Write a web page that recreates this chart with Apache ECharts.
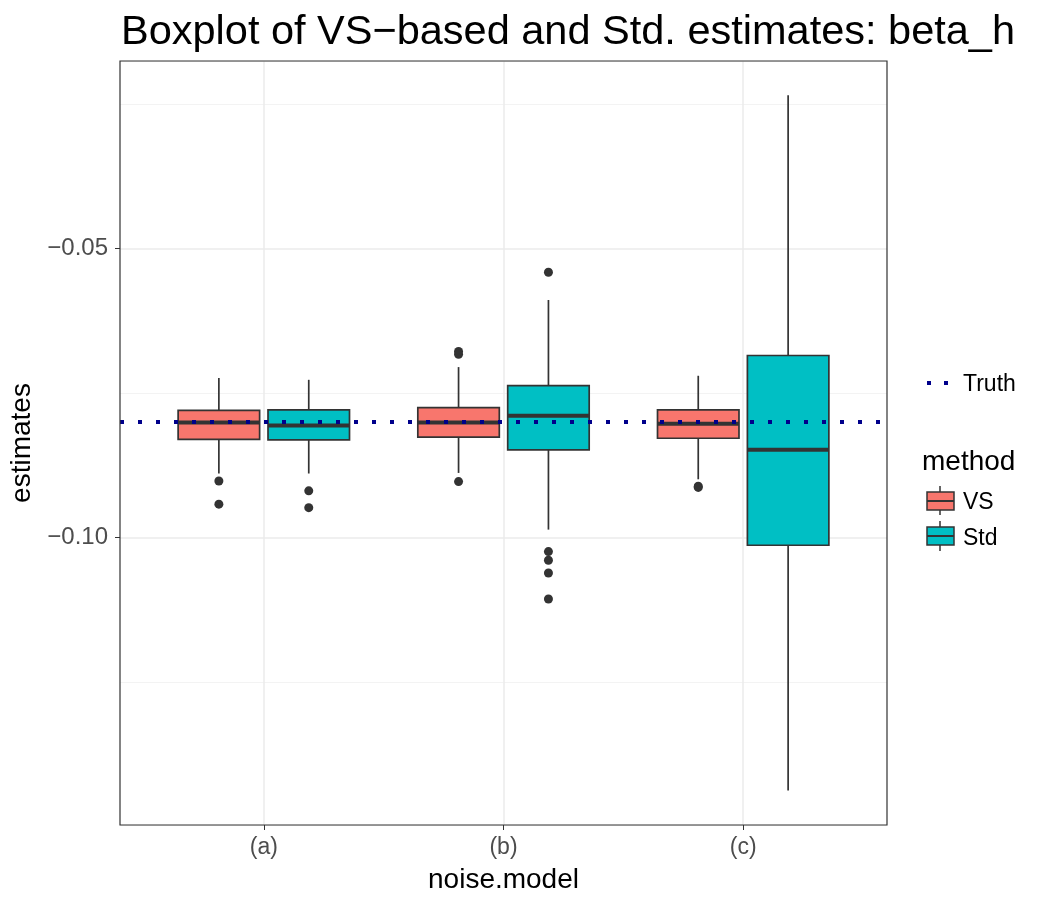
<!DOCTYPE html>
<html>
<head>
<meta charset="utf-8">
<script src="https://cdn.jsdelivr.net/npm/echarts@6/dist/echarts.min.js"></script>
<style>
  html, body { margin: 0; padding: 0; background: #fff; }
  #main { width: 1050px; height: 900px; }
</style>
</head>
<body>
<div id="main"></div>
<script>
var groups = ['(a)', '(b)', '(c)'];
var methods = ['VS', 'Std'];
var methodColors = ['#F8766D', '#00BFC4'];
// [lower whisker, Q1, median, Q3, upper whisker] per noise model
var vsBoxes = [
  [-0.0889, -0.0830, -0.0801, -0.0780, -0.0724],
  [-0.0888, -0.0826, -0.0801, -0.0775, -0.0705],
  [-0.0899, -0.0828, -0.0803, -0.0779, -0.0720]
];
var stdBoxes = [
  [-0.0889, -0.0831, -0.0806, -0.0779, -0.0727],
  [-0.0986, -0.0848, -0.0789, -0.0737, -0.0589],
  [-0.1437, -0.1013, -0.0848, -0.0685, -0.0235]
];
// [group index, value]
var vsOutliers = [
  [0, -0.0902], [0, -0.0942],
  [1, -0.0678], [1, -0.0683], [1, -0.0903],
  [2, -0.0911], [2, -0.0913]
];
var stdOutliers = [
  [0, -0.0919], [0, -0.0948],
  [1, -0.0541], [1, -0.1024], [1, -0.1039], [1, -0.1061], [1, -0.1106]
];
var truth = -0.08;
var yTicks = [-0.10, -0.05];
var yTickLabels = ['\u22120.10', '\u22120.05'];

var dodge = 0.1875;
var boxWidth = 0.34;
var font = 'Liberation Sans, Arial, sans-serif';

function boxData(boxes, offset) {
  return boxes.map(function (b, i) {
    return [i + 1 + offset].concat(b);
  });
}
function outlierData(points, offset) {
  return points.map(function (p) { return [p[0] + 1 + offset, p[1]]; });
}

function renderBox(params, api) {
  var x = api.value(0);
  var lo = api.coord([x, api.value(1)]);
  var q1 = api.coord([x, api.value(2)]);
  var med = api.coord([x, api.value(3)]);
  var q3 = api.coord([x, api.value(4)]);
  var hi = api.coord([x, api.value(5)]);
  var left = api.coord([x - boxWidth / 2, api.value(3)])[0];
  var right = api.coord([x + boxWidth / 2, api.value(3)])[0];
  var stroke = { stroke: '#333333', lineWidth: 1.7 };
  return {
    type: 'group',
    children: [
      { type: 'line', shape: { x1: hi[0], y1: hi[1], x2: q3[0], y2: q3[1] }, style: stroke },
      { type: 'line', shape: { x1: q1[0], y1: q1[1], x2: lo[0], y2: lo[1] }, style: stroke },
      { type: 'rect', shape: { x: left, y: q3[1], width: right - left, height: q1[1] - q3[1] },
        style: { fill: api.visual('color'), stroke: '#333333', lineWidth: 1.7 } },
      { type: 'line', shape: { x1: left, y1: med[1], x2: right, y2: med[1] },
        style: { stroke: '#333333', lineWidth: 4 } }
    ]
  };
}

var myChart = echarts.init(document.getElementById('main'));
option = {
  backgroundColor: '#ffffff',
  animation: false,
  title: {
    text: 'Boxplot of VS\u2212based and Std. estimates: beta_h',
    left: 116,
    top: 7,
    textStyle: { fontFamily: font, fontSize: 41.5, fontWeight: 'normal', color: '#000000' }
  },
  grid: {
    left: 120, top: 61, width: 767, height: 764,
    outerBoundsMode: 'none', containLabel: false,
    show: false
  },
  xAxis: {
    type: 'value',
    min: 0.4, max: 3.6,
    minInterval: 1, maxInterval: 1,
    name: 'noise.model',
    nameLocation: 'middle',
    nameGap: 41,
    nameTextStyle: { fontFamily: font, fontSize: 28, color: '#000000' },
    axisLine: { show: false },
    axisTick: { show: true, length: 5, customValues: [1, 2, 3], lineStyle: { color: '#333333', width: 1 } },
    axisLabel: {
      margin: 11,
      customValues: [1, 2, 3],
      fontFamily: font, fontSize: 23, color: '#4D4D4D',
      formatter: function (v) { return groups[Math.round(v) - 1] || ''; }
    },
    splitLine: { show: true, lineStyle: { color: '#EBEBEB', width: 1.5 } }
  },
  yAxis: [
    {
      type: 'value',
      min: -0.14967, max: -0.01758,
      minInterval: 0.05, maxInterval: 0.05,
      name: 'estimates',
      nameLocation: 'middle',
      nameGap: 83,
      nameTextStyle: { fontFamily: font, fontSize: 28, color: '#000000' },
      axisLine: { show: false },
      axisTick: { show: true, length: 5, customValues: yTicks, lineStyle: { color: '#333333', width: 1 } },
      axisLabel: {
        margin: 12,
        customValues: yTicks,
        fontFamily: font, fontSize: 24, color: '#4D4D4D',
        formatter: function (v) {
          for (var i = 0; i < yTicks.length; i++) {
            if (Math.abs(v - yTicks[i]) < 1e-6) return yTickLabels[i];
          }
          return '';
        }
      },
      splitLine: { show: true, lineStyle: { color: '#EBEBEB', width: 1.5 } }
    },
    {
      type: 'value',
      min: -0.14967, max: -0.01758,
      minInterval: 0.025, maxInterval: 0.025,
      axisLine: { show: false },
      axisTick: { show: false },
      axisLabel: { show: false },
      splitLine: { show: true, lineStyle: { color: '#F0F0F0', width: 0.8 } }
    }
  ],
  series: [
    {
      name: methods[0], type: 'custom', renderItem: renderBox,
      itemStyle: { color: methodColors[0] },
      encode: { x: 0, y: [1, 2, 3, 4, 5] },
      data: boxData(vsBoxes, -dodge), z: 2
    },
    {
      name: methods[1], type: 'custom', renderItem: renderBox,
      itemStyle: { color: methodColors[1] },
      encode: { x: 0, y: [1, 2, 3, 4, 5] },
      data: boxData(stdBoxes, dodge), z: 2
    },
    {
      name: 'VS outliers', type: 'scatter', symbolSize: 9,
      itemStyle: { color: '#333333', opacity: 1 },
      data: outlierData(vsOutliers, -dodge), z: 3
    },
    {
      name: 'Std outliers', type: 'scatter', symbolSize: 9,
      itemStyle: { color: '#333333', opacity: 1 },
      data: outlierData(stdOutliers, dodge), z: 3
    },
    {
      name: 'Truth', type: 'line', data: [], z: 5,
      markLine: {
        silent: true, symbol: 'none', label: { show: false },
        lineStyle: { color: '#00008B', width: 4, type: [4, 14], cap: 'butt' },
        data: [{ yAxis: truth }]
      }
    }
  ],
  graphic: [
    // panel border
    { type: 'rect', z: 100, silent: true,
      shape: { x: 120, y: 61, width: 767, height: 764 },
      style: { fill: null, stroke: '#333333', lineWidth: 1.2 } },
    { type: 'line', shape: { x1: 927, y1: 383, x2: 948, y2: 383 },
      style: { stroke: '#00008B', lineWidth: 4, lineDash: [4, 13] } },
    { type: 'text', x: 963, y: 373,
      style: { text: 'Truth', font: '23px ' + font, fill: '#000000' } },
    { type: 'text', x: 922, y: 448,
      style: { text: 'method', font: '28px ' + font, fill: '#000000' } },
    { type: 'group', x: 926, y: 486, children: [
      { type: 'line', shape: { x1: 14, y1: 0, x2: 14, y2: 29 }, style: { stroke: '#333333', lineWidth: 1.5 } },
      { type: 'rect', shape: { x: 1, y: 6, width: 27, height: 18 }, style: { fill: methodColors[0], stroke: '#333333', lineWidth: 1.5 } },
      { type: 'line', shape: { x1: 1, y1: 15, x2: 28, y2: 15 }, style: { stroke: '#333333', lineWidth: 2 } }
    ] },
    { type: 'text', x: 963, y: 491,
      style: { text: methods[0], font: '23px ' + font, fill: '#000000' } },
    { type: 'group', x: 926, y: 521, children: [
      { type: 'line', shape: { x1: 14, y1: 0, x2: 14, y2: 30 }, style: { stroke: '#333333', lineWidth: 1.5 } },
      { type: 'rect', shape: { x: 1, y: 6, width: 27, height: 18 }, style: { fill: methodColors[1], stroke: '#333333', lineWidth: 1.5 } },
      { type: 'line', shape: { x1: 1, y1: 15, x2: 28, y2: 15 }, style: { stroke: '#333333', lineWidth: 2 } }
    ] },
    { type: 'text', x: 963, y: 527,
      style: { text: methods[1], font: '23px ' + font, fill: '#000000' } }
  ]
};
myChart.setOption(option);
</script>
</body>
</html>
